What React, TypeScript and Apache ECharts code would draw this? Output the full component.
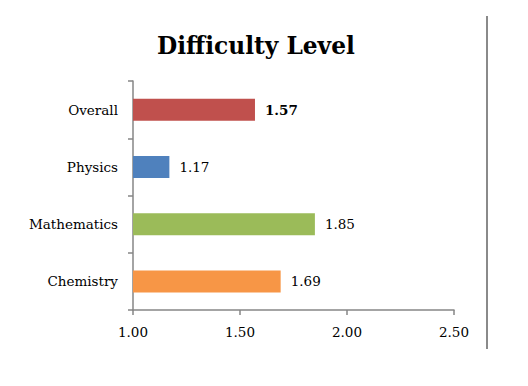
import React, { useEffect, useRef } from "react";
import * as echarts from "echarts";

const categories = ["Chemistry", "Mathematics", "Physics", "Overall"];
const values = [1.69, 1.85, 1.17, 1.57];
const colors = ["#F79646", "#9BBB59", "#4F81BD", "#C0504D"];
const boldLabel = [false, false, false, true];
const xTicks = [1.0, 1.5, 2.0, 2.5];

export default function App() {
  const ref = useRef<HTMLDivElement>(null);
  useEffect(() => {
    const chart = echarts.init(ref.current!, null, { renderer: "svg" });
    const font = "DejaVu Serif";
    chart.setOption({
      animation: false,
      backgroundColor: "#ffffff",
      title: {
        text: "Difficulty Level",
        left: 152,
        top: 29,
        textStyle: { fontFamily: font, fontWeight: "bold", fontSize: 23.3, color: "#000" },
      },
      grid: { left: 133, right: 74, top: 81, bottom: 76 },
      xAxis: {
        type: "value",
        min: xTicks[0],
        max: xTicks[xTicks.length - 1],
        interval: 0.5,
        axisLine: { show: true, lineStyle: { color: "#868686", width: 1.5 } },
        axisTick: { show: true, length: 5, lineStyle: { color: "#868686", width: 1.5 } },
        splitLine: { show: false },
        axisLabel: {
          formatter: (v: number) => v.toFixed(2),
          fontFamily: font,
          fontSize: 13.5,
          color: "#000",
          margin: 15,
        },
      },
      yAxis: {
        type: "category",
        data: categories,
        axisLine: { show: true, lineStyle: { color: "#868686", width: 1.5 } },
        axisTick: { show: true, length: 5, lineStyle: { color: "#868686", width: 1.5 } },
        axisLabel: { fontFamily: font, fontSize: 13.5, color: "#000", margin: 15 },
      },
      series: [
        {
          type: "bar",
          barWidth: 22,
          data: values.map((v, i) => ({
            value: v,
            itemStyle: { color: colors[i] },
            label: { fontWeight: boldLabel[i] ? "bold" : "normal" },
          })),
          label: {
            show: true,
            position: "right",
            distance: 10,
            formatter: (p: any) => p.value.toFixed(2),
            fontFamily: font,
            fontSize: 13.5,
            color: "#000",
          },
        },
      ],
      graphic: [
        {
          type: "line",
          shape: { x1: 487, y1: 16, x2: 487, y2: 349 },
          style: { stroke: "#8a8a8a", lineWidth: 2 },
        },
      ],
    });
    return () => chart.dispose();
  }, []);
  return <div ref={ref} style={{ width: 528, height: 386, position: "absolute", left: 0, top: 0 }} />;
}
